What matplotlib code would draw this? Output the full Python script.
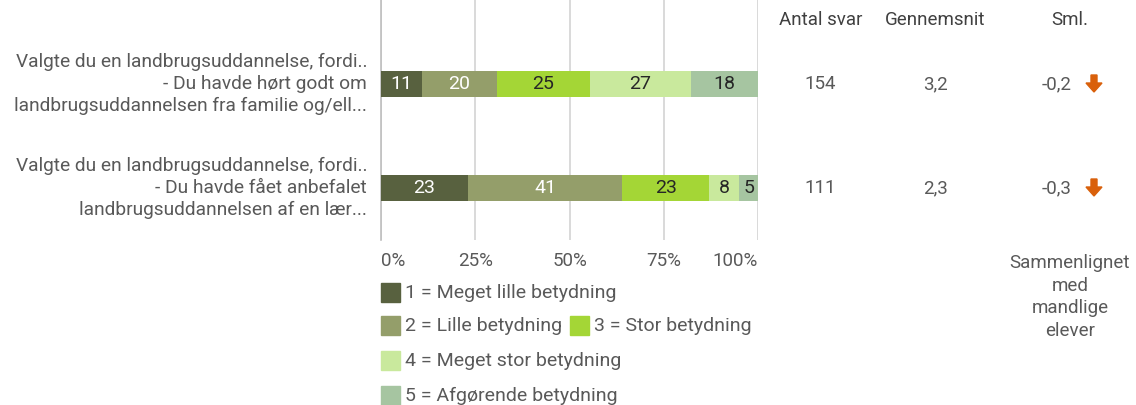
import matplotlib.pyplot as plt
import matplotlib.transforms as mtransforms
from matplotlib.patches import Rectangle, Polygon
import numpy as np

plt.rcParams['font.family'] = ['Roboto', 'DejaVu Sans']

questions = [
    'Valgte du en landbrugsuddannelse, fordi..\n- Du havde hørt godt om\nlandbrugsuddannelsen fra familie og/ell...',
    'Valgte du en landbrugsuddannelse, fordi..\n- Du havde fået anbefalet\nlandbrugsuddannelsen af en lær...',
]
categories = ['1 = Meget lille betydning', '2 = Lille betydning', '3 = Stor betydning',
              '4 = Meget stor betydning', '5 = Afgørende betydning']
values = np.array([[11, 20, 25, 27, 18],
                   [23, 41, 23, 8, 5]])
antal_svar = ['154', '111']
gennemsnit = ['3,2', '2,3']
sml = ['-0,2', '-0,3']
tick_vals = [0, 25, 50, 75, 100]
tick_labels = ['0%', '25%', '50%', '75%', '100%']

colors = ['#58613f', '#949e6a', '#a4d636', '#c9e99d', '#a6c5a1']
text_colors = ['white', 'white', '#262626', '#262626', '#262626']
grey = '#595959'

W, H = 1136, 405
fig = plt.figure(figsize=(W / 100, H / 100), dpi=100)
ax = fig.add_axes([381 / W, 1 - 240 / H, 377 / W, 240 / H])

shares = values / values.sum(axis=1, keepdims=True) * 100
ypos = np.arange(len(questions))
left = np.zeros(len(questions))
for j in range(len(categories)):
    ax.barh(ypos, shares[:, j], left=left, height=0.25, color=colors[j], zorder=3)
    for i in range(len(questions)):
        ax.text(left[i] + shares[i, j] / 2, ypos[i], str(values[i, j]), ha='center', va='center',
                fontsize=14, color=text_colors[j], zorder=4)
    left += shares[:, j]

ax.set_xlim(0, 100)
ax.set_ylim(1.5, -0.808)
ax.set_yticks([])
ax.set_xticks(tick_vals)
ax.set_xticklabels(tick_labels, fontsize=13.5, color=grey)
ax.tick_params(axis='x', length=0, pad=9)
xt = ax.get_xticklabels()
xt[0].set_ha('left')
xt[-1].set_ha('right')
ax.grid(axis='x', color='#d3d3d3', linewidth=1.2, zorder=0)
for s in ['top', 'right', 'bottom']:
    ax.spines[s].set_visible(False)
ax.spines['left'].set_color('#bfbfbf')
ax.spines['left'].set_linewidth(1.2)

tr = mtransforms.blended_transform_factory(fig.transFigure, ax.transData)
for i, q in enumerate(questions):
    ax.text(367 / W, i, q, transform=tr, ha='right', va='center', fontsize=13.8,
            color=grey, linespacing=1.3)
    ax.text(820 / W, i, antal_svar[i], transform=tr, ha='center', va='center', fontsize=13.5, color=grey)
    ax.text(935 / W, i, gennemsnit[i], transform=tr, ha='center', va='center', fontsize=13.5, color=grey)
    ax.text(1072 / W, i, sml[i], transform=tr, ha='right', va='center', fontsize=13.5, color=grey)

for x, lab in [(821, 'Antal svar'), (935, 'Gennemsnit'), (1070, 'Sml.')]:
    fig.text(x / W, 1 - 20 / H, lab, ha='center', va='center', fontsize=13.5, color='#404040')

fig.text(1070 / W, 1 - 297 / H, 'Sammenlignet\nmed\nmandlige\nelever', ha='center', va='center',
         fontsize=13.5, color=grey, linespacing=1.32)

# down arrows (orange)
for y in [84, 188]:
    cx, cy = 1094, H - y
    pts = [(cx - 3, cy + 9), (cx + 3, cy + 9), (cx + 3, cy + 1), (cx + 8, cy + 1), (cx, cy - 8),
           (cx - 8, cy + 1), (cx - 3, cy + 1)]
    fig.patches.append(Polygon([(px / W, py / H) for px, py in pts], closed=True,
                               transform=fig.transFigure, color='#d9600b'))

# legend
legend_items = [(381, 293, 0), (381, 326, 1), (570, 326, 2), (381, 361, 3), (381, 396, 4)]
for x, y, j in legend_items:
    fig.patches.append(Rectangle((x / W, (H - y - 9) / H), 19 / W, 19 / H, transform=fig.transFigure,
                                 color=colors[j]))
    fig.text((x + 24) / W, 1 - y / H, categories[j], ha='left', va='center', fontsize=14, color=grey)

fig.savefig('out.png', dpi=100)
